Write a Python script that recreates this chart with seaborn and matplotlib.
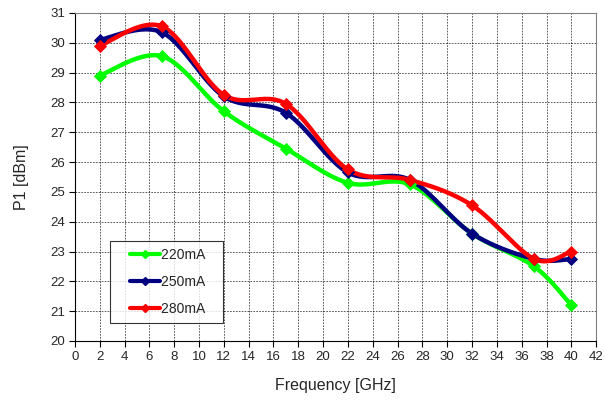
import numpy as np
import pandas as pd
import matplotlib
matplotlib.use("Agg")
import matplotlib.pyplot as plt
import seaborn as sns
from matplotlib.lines import Line2D
from matplotlib.legend_handler import HandlerLine2D

freq = [2, 7, 12, 17, 22, 27, 32, 37, 40]
p220 = [28.9, 29.55, 27.7, 26.45, 25.3, 25.25, 23.6, 22.5, 21.2]
p250 = [30.1, 30.35, 28.2, 27.65, 25.65, 25.4, 23.6, 22.75, 22.75]
p280 = [29.9, 30.55, 28.25, 27.95, 25.75, 25.4, 24.55, 22.75, 23.0]
series_names = ["220mA", "250mA", "280mA"]
colors = ["#00FF00", "#000080", "#FF0000"]
xticks = list(range(0, 43, 2))
yticks = list(range(20, 32))


def smooth(x, y, n=30):
    # Catmull-Rom style Bezier smoothing (like spreadsheet "smoothed line")
    x = np.asarray(x, float); y = np.asarray(y, float)
    px = np.concatenate([[x[0]], x, [x[-1]]])
    py = np.concatenate([[y[0]], y, [y[-1]]])
    xs, ys = [], []
    t = np.linspace(0, 1, n)
    for i in range(1, len(px) - 2):
        p0 = np.array([px[i], py[i]]); p3 = np.array([px[i + 1], py[i + 1]])
        p1 = p0 + (np.array([px[i + 1], py[i + 1]]) - np.array([px[i - 1], py[i - 1]])) / 6
        p2 = p3 - (np.array([px[i + 2], py[i + 2]]) - np.array([px[i], py[i]])) / 6
        b = ((1 - t) ** 3)[:, None] * p0 + (3 * (1 - t) ** 2 * t)[:, None] * p1 \
            + (3 * (1 - t) * t ** 2)[:, None] * p2 + (t ** 3)[:, None] * p3
        xs.extend(b[:, 0]); ys.extend(b[:, 1])
    return np.array(xs), np.array(ys)


sns.set_style("white")
plt.rcParams["font.family"] = ["Liberation Sans", "DejaVu Sans"]

fig = plt.figure(figsize=(6.04, 4.04), dpi=100)
ax = fig.add_axes([0.124, 0.156, 0.863, 0.812])

handles = []
for name, vals, c in zip(series_names, [p220, p250, p280], colors):
    sx, sy = smooth(freq, vals)
    dfl = pd.DataFrame({"x": sx, "y": sy, "s": name})
    sns.lineplot(data=dfl, x="x", y="y", ax=ax, color=c, lw=3.2, sort=False,
                 estimator=None, legend=False, zorder=3)
    dfp = pd.DataFrame({"x": freq, "y": vals})
    sns.scatterplot(data=dfp, x="x", y="y", ax=ax, color=c, marker="D", s=45,
                    edgecolor=c, linewidth=0, legend=False, zorder=4)
    handles.append(Line2D([0], [0], color=c, lw=3.0, marker="D", markersize=4,
                          label=name + "   "))

ax.set_xlim(0, 42)
ax.set_ylim(20, 31)
ax.set_xticks(xticks)
ax.set_yticks(yticks)
ax.tick_params(axis="both", labelsize=9.5, length=4, direction="out", color="black",
               left=True, bottom=True, pad=3)
ax.grid(True, color="black", linestyle=(0, (2, 1.5)), linewidth=0.6, alpha=0.75)
ax.set_axisbelow(True)
for s in ["left", "bottom"]:
    ax.spines[s].set_color("black"); ax.spines[s].set_linewidth(0.8)
for s in ["top", "right"]:
    ax.spines[s].set_color("#808080"); ax.spines[s].set_linewidth(0.8)

ax.set_xlabel("Frequency [GHz]", fontsize=11.5, labelpad=11)
ax.set_ylabel("P1 [dBm]", fontsize=11.5, labelpad=15)

leg = ax.legend(handles=handles, loc="lower left", bbox_to_anchor=(0.067, 0.055),
                fontsize=10, frameon=True, fancybox=False, edgecolor="black",
                borderpad=0.5, labelspacing=0.95, handlelength=3.1, handletextpad=0.1,
                borderaxespad=0,
                handler_map={Line2D: HandlerLine2D(xpad=0.93)})
leg.get_frame().set_linewidth(0.8)

fig.savefig("out.png", dpi=100)
